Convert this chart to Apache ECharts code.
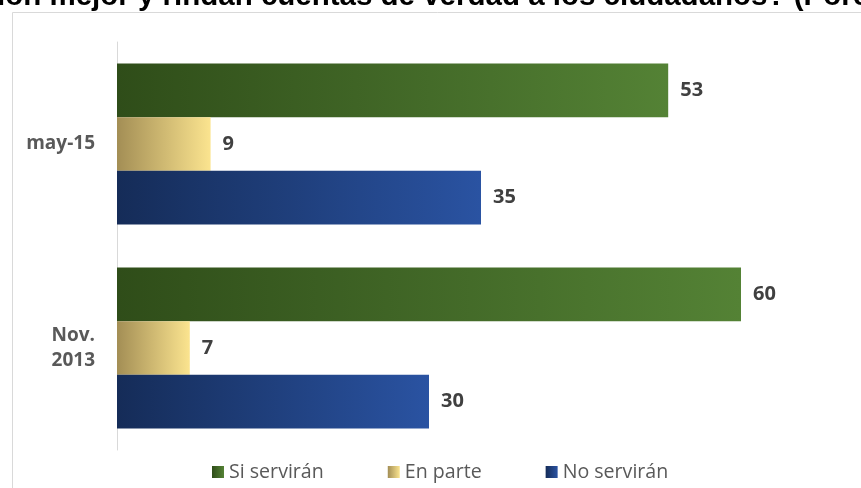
<!DOCTYPE html>
<html>
<head>
<meta charset="utf-8">
<script src="https://cdn.jsdelivr.net/npm/echarts@6/dist/echarts.min.js"></script>
<style>
html,body{margin:0;padding:0;background:#fff;}
#chart{width:861px;height:488px;}
</style>
</head>
<body>
<div id="chart"></div>
<script>
const categories = ['may-15', 'Nov.\n2013'];
const seriesNames = ['Si servirán', 'En parte', 'No servirán'];
const siServiran = [53, 60];
const enParte = [9, 7];
const noServiran = [35, 30];
const titleText = 'ión mejor y rindan cuentas de verdad a los ciudadanos? (Porcentaje)';

function grad(c0, c1) {
  return new echarts.graphic.LinearGradient(0, 0, 1, 0, [
    {offset: 0, color: c0}, {offset: 1, color: c1}
  ]);
}
const fills = [
  grad('#2f4d19', '#548235'),
  grad('#a38e55', '#fbe48f'),
  grad('#152c58', '#2a53a2')
];
const values = [siServiran, enParte, noServiran];

const chart = echarts.init(document.getElementById('chart'));
chart.setOption({
  animation: false,
  backgroundColor: '#ffffff',
  graphic: [
    {
      type: 'rect', silent: true,
      shape: {x: 12.5, y: 12.5, width: 900, height: 600},
      style: {fill: 'none', stroke: '#d9d9d9', lineWidth: 1}
    },
    {
      type: 'text', silent: true, x: -3, y: -3,
      style: {
        text: titleText,
        font: 'bold 29.5px "Liberation Sans", Arial, sans-serif',
        fill: '#000000',
        verticalAlign: 'middle',
        align: 'left'
      }
    }
  ],
  grid: {left: 117, top: 42, width: 728, height: 408, containLabel: false},
  xAxis: {
    type: 'value', min: 0, max: 70, show: false
  },
  yAxis: {
    type: 'category', data: categories, inverse: true,
    axisLine: {show: true, lineStyle: {color: '#d9d9d9', width: 1}},
    axisTick: {show: false},
    axisLabel: {
      margin: 22, color: '#595959', fontSize: 19, fontWeight: 'bold',
      fontFamily: '"Open Sans", sans-serif', lineHeight: 25, align: 'right'
    }
  },
  legend: {
    left: 212, top: 462, padding: 0,
    itemWidth: 12, itemHeight: 12, itemGap: 64,
    icon: 'rect',
    textStyle: {color: '#595959', fontSize: 19.6, fontFamily: '"Open Sans", sans-serif'},
    data: seriesNames
  },
  series: seriesNames.map((name, i) => ({
    name: name,
    type: 'bar',
    data: values[i],
    barGap: '0%',
    barCategoryGap: '21%',
    itemStyle: {color: fills[i]},
    label: {
      show: true, position: 'right', distance: 12,
      color: '#404040', fontSize: 20, fontWeight: 'bold',
      fontFamily: '"Open Sans", sans-serif'
    }
  }))
});
</script>
</body>
</html>
